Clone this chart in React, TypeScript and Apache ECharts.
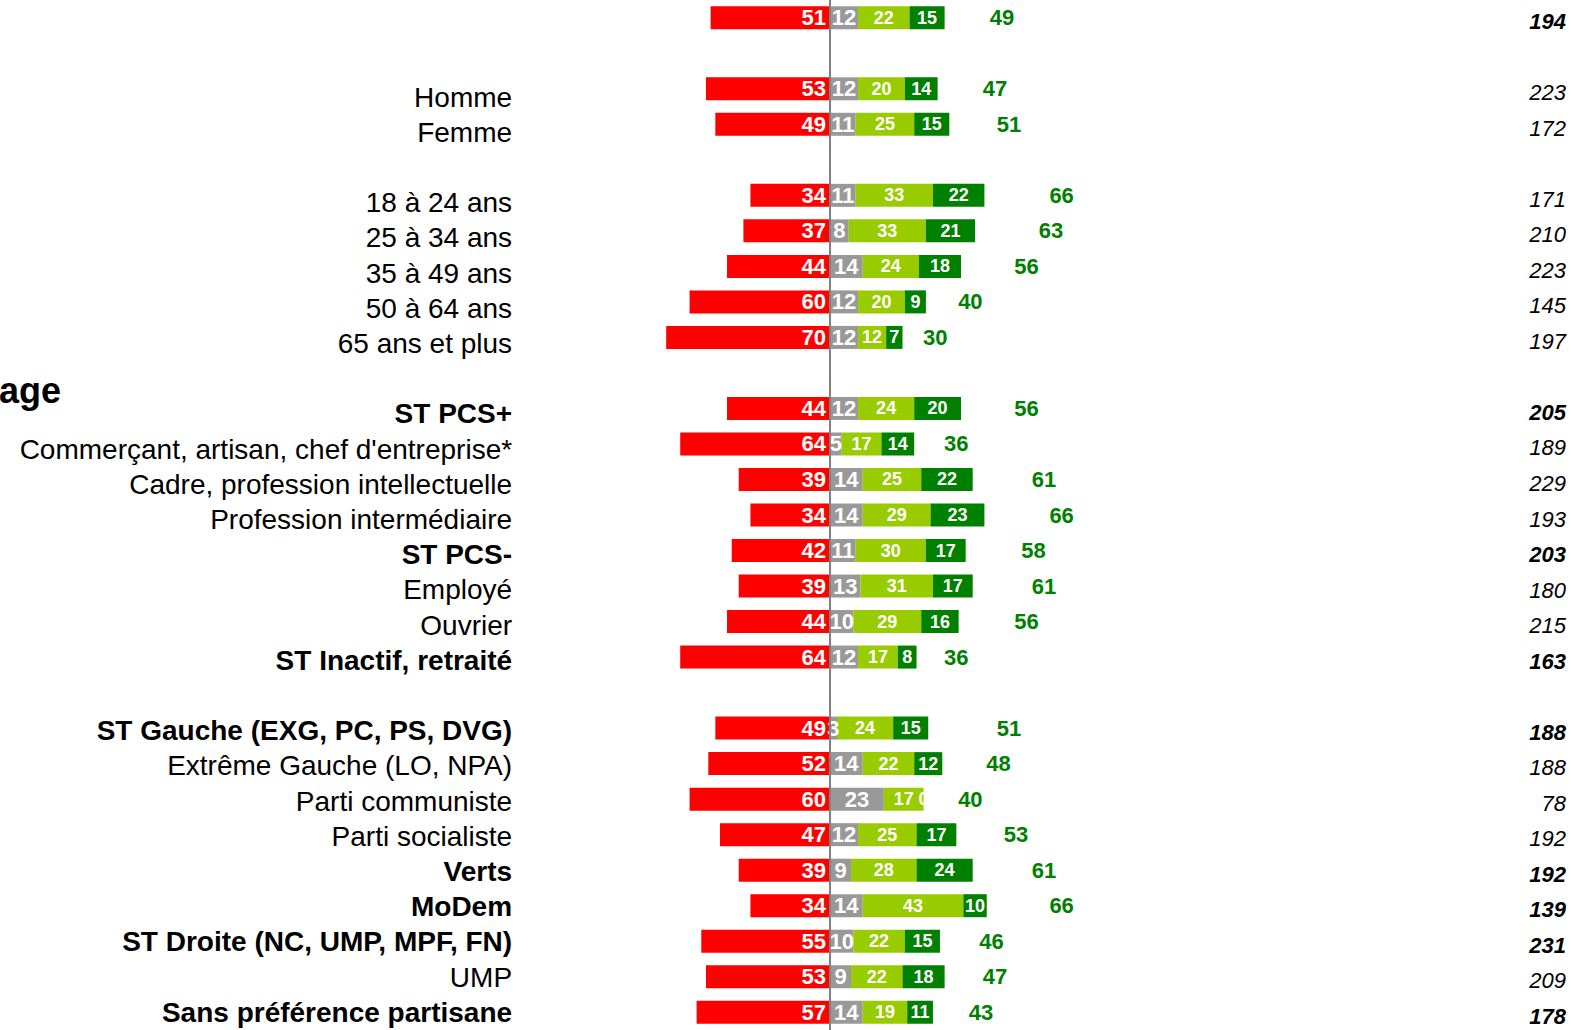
import React, { useEffect, useRef } from "react";
import * as echarts from "echarts";

const FONT = '"Liberation Sans", Arial, sans-serif';

const labels = [
  "", "", "Homme", "Femme", "",
  "18 à 24 ans", "25 à 34 ans", "35 à 49 ans", "50 à 64 ans", "65 ans et plus", "",
  "ST PCS+", "Commerçant, artisan, chef d'entreprise*", "Cadre, profession intellectuelle",
  "Profession intermédiaire", "ST PCS-", "Employé", "Ouvrier", "ST Inactif, retraité", "",
  "ST Gauche (EXG, PC, PS, DVG)", "Extrême Gauche (LO, NPA)", "Parti communiste",
  "Parti socialiste", "Verts", "MoDem", "ST Droite (NC, UMP, MPF, FN)", "UMP",
  "Sans préférence partisane",
];
const labelBold = [0,0,0,0,0,0,0,0,0,0,0,1,0,0,0,1,0,0,1,0,1,0,0,0,1,1,1,0,1];

const negative = [51,null,53,49,null,34,37,44,60,70,null,44,64,39,34,42,39,44,64,null,49,52,60,47,39,34,55,53,57];
const neutral = [12,null,12,11,null,11,8,14,12,12,null,12,5,14,14,11,13,10,12,null,3,14,23,12,9,14,10,9,14];
const fairlyPositive = [22,null,20,25,null,33,33,24,20,12,null,24,17,25,29,30,31,29,17,null,24,22,17,25,28,43,22,22,19];
const veryPositive = [15,null,14,15,null,22,21,18,9,7,null,20,14,22,23,17,17,16,8,null,15,12,0,17,24,10,15,18,11];
const totalPositive = [49,null,47,51,null,66,63,56,40,30,null,56,36,61,66,58,61,56,36,null,51,48,40,53,61,66,46,47,43];
const sampleSize = [194,null,223,172,null,171,210,223,145,197,null,205,189,229,193,203,180,215,163,null,188,188,78,192,192,139,231,209,178];
const sampleBold = [1,0,0,0,0,0,0,0,0,0,0,1,0,0,0,1,0,0,1,0,1,0,0,0,1,1,1,0,1];

const RED = "#FF0000";
const GRAY = "#999999";
const LIGHT = "#99CC00";
const DARK = "#008000";

const X_MIN = -135;
const X_MAX = 316.7;

export default function App() {
  const ref = useRef<HTMLDivElement>(null);
  useEffect(() => {
    if (!ref.current) return;
    const chart = echarts.init(ref.current, undefined, { renderer: "svg" });
    const nz = (arr: (number | null)[], sign = 1) => arr.map((v) => (v == null ? "-" : sign * v));
    const barLabel = (size: number) => ({
      show: true,
      position: "inside" as const,
      color: "#fff",
      fontWeight: "bold" as const,
      fontSize: size,
      fontFamily: FONT,
      formatter: (p: any) => String(Math.abs(p.value)),
    });
    const totalData: any[] = [];
    totalPositive.forEach((t, i) => {
      if (t != null) totalData.push({ value: [t * 1.5, i], total: t });
    });
    const option: any = {
      animation: false,
      backgroundColor: "#fff",
      textStyle: { fontFamily: FONT },
      grid: [
        { left: 514.1, right: 0, top: 0, height: 1030, containLabel: false },
        { left: 514.1, right: 0, top: 9, height: 1023, containLabel: false },
      ],
      xAxis: [
        { type: "value", gridIndex: 0, min: X_MIN, max: X_MAX, show: false },
        { type: "value", gridIndex: 1, min: X_MIN, max: X_MAX, show: false },
      ],
      yAxis: [
        {
          type: "category",
          gridIndex: 0,
          inverse: true,
          data: labels,
          axisLine: { show: false },
          axisTick: { show: false },
          axisLabel: { show: false },
          splitLine: { show: false },
        },
        {
          type: "category",
          gridIndex: 0,
          position: "right",
          inverse: true,
          data: sampleSize.map((v) => (v == null ? "" : String(v))),
          axisLine: { show: false },
          axisTick: { show: false },
          splitLine: { show: false },
          axisLabel: {
            inside: true,
            margin: 5,
            interval: 0,
            padding: [8, 0, 0, 0],
            formatter: (v: string, i: number) => (sampleBold[i] ? `{b|${v}}` : `{n|${v}}`),
            rich: {
              b: { fontWeight: "bold", fontStyle: "italic", fontSize: 22, fontFamily: FONT, color: "#000" },
              n: { fontWeight: "normal", fontStyle: "italic", fontSize: 22, fontFamily: FONT, color: "#000" },
            },
          },
        },
        {
          type: "category",
          gridIndex: 1,
          inverse: true,
          data: labels,
          axisLine: { show: false },
          axisTick: { show: false },
          splitLine: { show: false },
          axisLabel: {
            margin: 2,
            interval: 0,
            formatter: (v: string, i: number) => (labelBold[i] ? `{b|${v}}` : `{n|${v}}`),
            rich: {
              b: { fontWeight: "bold", fontSize: 28, fontFamily: FONT, color: "#000" },
              n: { fontWeight: "normal", fontSize: 28, fontFamily: FONT, color: "#000" },
            },
          },
        },
      ],
      series: [
        {
          name: "Négatif",
          type: "bar",
          stack: "s",
          barWidth: 23,
          xAxisIndex: 0,
          yAxisIndex: 0,
          itemStyle: { color: RED },
          label: { ...barLabel(22), position: "insideRight", distance: 4 },
          data: nz(negative, -1),
        },
        {
          name: "Neutre",
          type: "bar",
          stack: "s",
          barWidth: 23,
          xAxisIndex: 0,
          yAxisIndex: 0,
          itemStyle: { color: GRAY },
          label: barLabel(22),
          data: nz(neutral),
        },
        {
          name: "Plutôt positif",
          type: "bar",
          stack: "s",
          barWidth: 23,
          xAxisIndex: 0,
          yAxisIndex: 0,
          itemStyle: { color: LIGHT },
          label: barLabel(18),
          data: nz(fairlyPositive),
        },
        {
          name: "Très positif",
          type: "bar",
          stack: "s",
          barWidth: 23,
          xAxisIndex: 0,
          yAxisIndex: 0,
          itemStyle: { color: DARK },
          label: barLabel(18),
          data: nz(veryPositive),
          markLine: {
            silent: true,
            symbol: "none",
            z: 10,
            label: { show: false },
            lineStyle: { color: "#808080", width: 2, type: "solid" },
            data: [{ xAxis: 0 }],
          },
        },
        {
          name: "Total positif",
          type: "scatter",
          xAxisIndex: 0,
          yAxisIndex: 0,
          symbolSize: 1,
          itemStyle: { color: "rgba(0,0,0,0)", opacity: 1 },
          label: {
            show: true,
            position: "inside",
            color: DARK,
            fontWeight: "bold",
            fontSize: 22,
            fontFamily: FONT,
            formatter: (p: any) => String(p.data.total),
          },
          data: totalData,
        },
      ],
      graphic: [
        {
          type: "text",
          x: 61,
          y: 390,
          style: {
            text: "age",
            align: "right",
            verticalAlign: "middle",
            fontSize: 36,
            fontWeight: "bold",
            fontFamily: FONT,
            fill: "#000",
          },
        },
      ],
    };
    chart.setOption(option);
    return () => chart.dispose();
  }, []);
  return (
    <div
      ref={ref}
      style={{ position: "absolute", left: 0, top: 0, width: 1571, height: 1030 }}
    />
  );
}
